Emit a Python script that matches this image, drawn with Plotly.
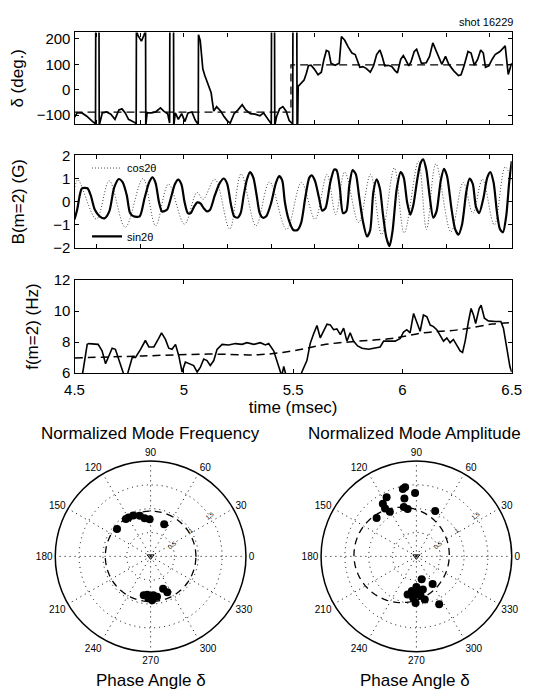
import math
import plotly.graph_objects as go

W, H = 541, 700
FONT = "Liberation Sans, Arial, Helvetica, sans-serif"

shot_label = "shot 16229"

# ---------------- panel 1 : phase delta (deg) ----------------
delta_t = [4.500, 4.512, 4.534, 4.556, 4.578, 4.596, 4.597, 4.612, 4.613, 4.627,
           4.647, 4.666, 4.685, 4.703, 4.717, 4.732, 4.747, 4.761, 4.776, 4.782,
           4.783, 4.790, 4.806, 4.817, 4.825, 4.826, 4.832, 4.852, 4.871, 4.893,
           4.908, 4.926, 4.935, 4.936, 4.953, 4.954, 4.961, 4.975, 4.990, 5.005,
           5.019, 5.037, 5.052, 5.066, 5.067, 5.075, 5.081, 5.087, 5.096, 5.110,
           5.125, 5.131, 5.137, 5.150, 5.169, 5.183, 5.198, 5.212, 5.230, 5.248,
           5.267, 5.283, 5.304, 5.326, 5.348, 5.365, 5.383, 5.400, 5.401, 5.415,
           5.416, 5.424, 5.438, 5.453, 5.468, 5.482, 5.498, 5.499, 5.517, 5.518,
           5.521, 5.523, 5.535, 5.550, 5.560, 5.570, 5.582, 5.597, 5.614, 5.629,
           5.641, 5.652, 5.663, 5.673, 5.692, 5.711, 5.721, 5.736, 5.751, 5.769,
           5.784, 5.795, 5.805, 5.819, 5.834, 5.853, 5.868, 5.882, 5.897, 5.907,
           5.919, 5.934, 5.951, 5.966, 5.977, 5.992, 6.004, 6.014, 6.029, 6.039,
           6.054, 6.065, 6.077, 6.087, 6.109, 6.124, 6.139, 6.153, 6.168, 6.180,
           6.197, 6.212, 6.234, 6.256, 6.268, 6.282, 6.300, 6.314, 6.329, 6.344,
           6.358, 6.370, 6.380, 6.395, 6.410, 6.424, 6.446, 6.470, 6.484, 6.500]
delta_deg = [-108, -91, -91, -104, -121, -134, 232, 232, -140, -91,
             -87, -96, -116, -79, -75, -91, -116, -121, -129, -134,
             232, 213, 191, 213, 232, -140, -91, -91, -87, -71,
             -84, -94, -131, 232, 232, -140, -91, -116, -94, -125,
             -91, -87, -119, -136, 216, 194, 144, 81, 56, 25,
             -12, -50, -84, -66, -84, -104, -121, -131, -94, -79,
             -59, -79, -94, -96, -102, -91, -113, -134, 232, 232,
             -140, -106, -75, -66, -84, -121, -134, 232, 232, -140,
             -130, 13, 25, 38, 63, 94, 96, 81, 59, 69,
             119, 154, 150, 104, 96, 104, 209, 194, 169, 144,
             138, 113, 88, 91, 84, 69, 94, 138, 156, 131,
             94, 96, 91, 75, 66, 119, 134, 119, 94, 109,
             150, 159, 125, 104, 106, 131, 184, 156, 125, 100,
             131, 100, 75, 56, 59, 94, 150, 144, 96, 119,
             156, 144, 88, 94, 119, 138, 150, 172, 60, 105]
delta_ref_t = [4.5, 5.49, 5.49, 6.5]
delta_ref_deg = [-88, -88, 98, 98]

# ---------------- panel 2 : B(m=2) ----------------
sin_t = [4.500, 4.512, 4.524, 4.534, 4.559, 4.574, 4.593, 4.615, 4.637, 4.659,
         4.681, 4.703, 4.720, 4.739, 4.754, 4.770, 4.798, 4.820, 4.842, 4.857,
         4.871, 4.886, 4.900, 4.923, 4.940, 4.959, 4.974, 4.989, 5.003, 5.018,
         5.032, 5.047, 5.062, 5.076, 5.091, 5.106, 5.120, 5.142, 5.164, 5.183,
         5.198, 5.216, 5.230, 5.245, 5.260, 5.274, 5.289, 5.303, 5.318, 5.333,
         5.347, 5.362, 5.377, 5.399, 5.421, 5.436, 5.450, 5.462, 5.479, 5.501,
         5.520, 5.537, 5.555, 5.574, 5.585, 5.600, 5.619, 5.633, 5.648, 5.670,
         5.688, 5.699, 5.714, 5.728, 5.743, 5.757, 5.772, 5.787, 5.801, 5.819,
         5.838, 5.852, 5.867, 5.882, 5.897, 5.911, 5.926, 5.941, 5.955, 5.974,
         5.992, 6.006, 6.021, 6.036, 6.050, 6.068, 6.083, 6.095, 6.109, 6.124,
         6.141, 6.156, 6.175, 6.190, 6.204, 6.224, 6.241, 6.256, 6.273, 6.292,
         6.307, 6.322, 6.336, 6.351, 6.370, 6.388, 6.402, 6.417, 6.432, 6.446,
         6.460, 6.475, 6.488, 6.500]
sin_b = [-0.76, -0.35, 0.28, 0.58, 0.58, 0.28, -0.35, -0.63, -0.72, -0.42,
         0.60, 0.98, 0.85, 0.28, -0.49, -0.63, -0.63, 0.14, 0.85, 1.05,
         0.80, 0.00, -0.42, -0.35, 0.14, 0.75, 0.95, 0.75, 0.00, -0.49,
         -0.49, -0.21, -0.03, -0.07, -0.28, -0.42, -0.35, 0.28, 0.80, 1.00,
         0.78, -0.14, -0.63, -0.69, -0.49, 0.28, 0.97, 1.28, 1.04, 0.28,
         -0.49, -0.69, -0.63, -0.07, 0.80, 1.10, 0.92, 0.00, -0.75, -1.22,
         -1.22, -0.90, 0.14, 1.04, 1.14, 0.90, 0.14, -0.39, -0.28, 0.83,
         1.39, 1.36, 0.56, -0.49, -0.42, 0.69, 1.36, 1.18, 0.28, -0.83,
         -1.50, -1.25, 0.42, 0.97, 0.56, -0.56, -1.53, -1.92, -1.25, 0.56,
         1.28, 1.04, 0.00, -0.56, -0.14, 0.97, 1.67, 1.83, 1.39, 0.28,
         -0.69, -0.42, 0.90, 1.42, 1.11, -0.28, -1.18, -1.42, -0.97, 0.42,
         1.00, 0.76, -0.21, -0.49, 0.14, 1.04, 1.28, 0.83, -0.42, -1.18,
         -1.32, -0.60, 0.80, 1.75]
cos_t = [4.500, 4.515, 4.600, 4.659, 4.732, 4.813, 4.871, 4.930, 5.003, 5.060,
         5.088, 5.142, 5.210, 5.262, 5.330, 5.392, 5.470, 5.538, 5.600, 5.655,
         5.695, 5.736, 5.800, 5.854, 5.905, 5.963, 6.008, 6.073, 6.110, 6.153,
         6.222, 6.278, 6.322, 6.366, 6.420, 6.470, 6.500]
cos_b = [0.50, 0.95, -0.75, 0.90, -1.10, 1.00, -1.04, 0.76, -0.97, 0.40,
         0.10, 0.97, -1.18, 1.20, -1.04, 0.85, -1.20, 0.83, -0.76, 1.18,
         -0.55, 1.28, -0.90, 1.18, -1.42, 1.46, -1.35, 1.74, -1.20, 1.64,
         -1.30, 0.83, -0.50, 0.97, -1.00, 1.50, 0.90]

# ---------------- panel 3 : f(m=2) ----------------
f_t = [4.500, 4.530, 4.538, 4.558, 4.566, 4.608, 4.626, 4.642, 4.657, 4.672,
       4.687, 4.703, 4.721, 4.730, 4.740, 4.745, 4.764, 4.779, 4.802, 4.824,
       4.840, 4.863, 4.885, 4.898, 4.916, 4.931, 4.946, 4.962, 4.977, 4.992,
       5.007, 5.022, 5.045, 5.061, 5.076, 5.091, 5.106, 5.121, 5.137, 5.152,
       5.175, 5.205, 5.236, 5.266, 5.289, 5.320, 5.350, 5.373, 5.388, 5.411,
       5.426, 5.441, 5.448, 5.457, 5.466, 5.472, 5.530, 5.540, 5.563, 5.578,
       5.593, 5.609, 5.624, 5.640, 5.655, 5.670, 5.685, 5.700, 5.716, 5.731,
       5.746, 5.761, 5.776, 5.795, 5.815, 5.845, 5.875, 5.898, 5.914, 5.967,
       5.990, 6.005, 6.020, 6.035, 6.051, 6.066, 6.081, 6.096, 6.112, 6.127,
       6.142, 6.157, 6.173, 6.188, 6.203, 6.218, 6.233, 6.249, 6.264, 6.275,
       6.287, 6.302, 6.314, 6.325, 6.335, 6.351, 6.360, 6.375, 6.393, 6.424,
       6.450, 6.462, 6.477, 6.492, 6.500]
f_hz = [5.5, 5.6, 6.06, 7.85, 7.90, 7.85, 7.43, 6.60, 7.10, 7.60,
        7.53, 6.80, 6.06, 5.7, 5.7, 6.06, 7.00, 7.00, 7.53, 8.10,
        7.68, 7.68, 8.23, 8.59, 8.17, 7.60, 7.53, 7.85, 7.10, 6.06,
        6.70, 6.60, 6.48, 6.06, 6.38, 6.90, 6.80, 6.48, 6.80, 7.53,
        7.85, 7.81, 7.90, 7.85, 7.96, 7.85, 7.96, 7.81, 7.90, 7.43,
        6.80, 6.06, 5.8, 6.42, 5.8, 5.6, 5.6, 6.06, 6.80, 7.90,
        8.50, 9.07, 8.27, 8.70, 9.16, 9.11, 8.80, 8.85, 8.48, 8.90,
        8.06, 8.60, 8.06, 7.75, 7.60, 7.53, 7.60, 7.68, 8.06, 8.06,
        8.23, 8.65, 8.80, 8.59, 9.85, 9.20, 8.70, 9.75, 9.64, 9.10,
        9.00, 8.80, 8.38, 8.06, 8.27, 7.96, 8.17, 7.75, 7.43, 7.33,
        8.06, 9.33, 10.17, 9.75, 9.20, 10.17, 10.38, 9.54, 9.37, 9.33,
        9.33, 8.90, 7.64, 6.38, 6.06]
f_ref_t = [4.50, 4.81, 5.11, 5.34, 5.50, 5.65, 5.80, 5.95, 6.10, 6.26, 6.41, 6.50]
f_ref_hz = [6.97, 7.10, 7.22, 7.18, 7.43, 7.85, 8.06, 8.23, 8.60, 8.80, 9.16, 9.26]

# ---------------- polar plots ----------------
freq_theta = [140.7, 123.5, 119.5, 113, 105, 99, 91.5, 67,
              260, 267, 272, 279, 291, 295, 265, 274]
freq_r = [0.91, 0.94, 0.94, 0.93, 0.88, 0.81, 0.78, 0.73,
          0.83, 0.88, 0.92, 0.86, 0.73, 0.83, 0.81, 0.82]
amp_theta = [116.7, 122.5, 123.2, 120.7, 136, 99.3, 101.4, 101.7, 104.3, 100.5, 91.2, 67.5,
             283, 300.5, 270, 262.5, 257, 271.5, 281, 276, 281, 269, 295.5, 265.5]
amp_r = [1.39, 1.31, 1.20, 1.09, 1.16, 1.47, 1.44, 1.24, 1.07, 1.01, 1.33, 1.03,
         0.49, 0.67, 0.64, 0.73, 0.82, 0.78, 0.71, 0.83, 0.92, 0.98, 1.11, 0.87]
freq_ref_radius = 0.95
amp_ref_center = (-0.31, 0.03)
amp_ref_radius = 1.0
angle_ticks = list(range(0, 360, 30))
radial_ticks = [0.5, 1, 1.5]


def fx(px):
    return px / W


def fy(py):
    return 1 - py / H


fig = go.Figure()

# panel 1
fig.add_trace(go.Scatter(x=delta_ref_t, y=delta_ref_deg, mode="lines",
                         line=dict(color="black", width=1.3, dash="8px,5px"),
                         xaxis="x", yaxis="y", showlegend=False, hoverinfo="skip"))
fig.add_trace(go.Scatter(x=delta_t, y=delta_deg, mode="lines",
                         line=dict(color="black", width=1.7),
                         xaxis="x", yaxis="y", showlegend=False))
# panel 2
fig.add_trace(go.Scatter(x=cos_t, y=cos_b, mode="lines", name="cos2θ",
                         line=dict(color="#444444", width=1, dash="1px,2px", shape="spline", smoothing=1.0),
                         xaxis="x2", yaxis="y2", legend="legend"))
fig.add_trace(go.Scatter(x=sin_t, y=sin_b, mode="lines", name="sin2θ",
                         line=dict(color="black", width=2.2, shape="spline", smoothing=0.7),
                         xaxis="x2", yaxis="y2", legend="legend2"))
# panel 3
fig.add_trace(go.Scatter(x=f_ref_t, y=f_ref_hz, mode="lines",
                         line=dict(color="black", width=1.5, dash="8px,5px", shape="spline"),
                         xaxis="x3", yaxis="y3", showlegend=False))
fig.add_trace(go.Scatter(x=f_t, y=f_hz, mode="lines",
                         line=dict(color="black", width=1.6),
                         xaxis="x3", yaxis="y3", showlegend=False))

# polar reference circles
circ_deg = list(range(0, 361, 4))
fig.add_trace(go.Scatterpolar(r=[freq_ref_radius] * len(circ_deg), theta=circ_deg, mode="lines",
                              line=dict(color="black", width=1.3, dash="7px,5px"),
                              subplot="polar", showlegend=False))
amp_cx, amp_cy = amp_ref_center
amp_ref_r, amp_ref_th = [], []
for d in circ_deg:
    xx = amp_cx + amp_ref_radius * math.cos(math.radians(d))
    yy = amp_cy + amp_ref_radius * math.sin(math.radians(d))
    amp_ref_r.append(math.hypot(xx, yy))
    amp_ref_th.append(math.degrees(math.atan2(yy, xx)) % 360)
fig.add_trace(go.Scatterpolar(r=amp_ref_r, theta=amp_ref_th, mode="lines",
                              line=dict(color="black", width=1.3, dash="7px,5px"),
                              subplot="polar2", showlegend=False))
for sp in ["polar", "polar2"]:
    fig.add_trace(go.Scatterpolar(r=[0], theta=[0], mode="markers",
                                  marker=dict(symbol="triangle-down-open", size=6, color="black",
                                              line=dict(width=1)),
                                  subplot=sp, showlegend=False))
fig.add_trace(go.Scatterpolar(r=freq_r, theta=freq_theta, mode="markers",
                              marker=dict(color="black", size=8),
                              subplot="polar", showlegend=False))
fig.add_trace(go.Scatterpolar(r=amp_r, theta=amp_theta, mode="markers",
                              marker=dict(color="black", size=8),
                              subplot="polar2", showlegend=False))

x_dom = [fx(67), fx(521)]
axis_common = dict(showline=True, linecolor="black", linewidth=1.2, mirror="ticks",
                   ticks="inside", ticklen=4, tickcolor="black", showgrid=False,
                   zeroline=False, tickfont=dict(size=15, color="black"))
minor_ticks = [4.6, 4.8, 5.0, 5.2, 5.4, 5.6, 5.8, 6.0, 6.2, 6.4]

polar_common = dict(
    bgcolor="white",
    angularaxis=dict(rotation=0, direction="counterclockwise", tickmode="array",
                     tickvals=angle_ticks, ticktext=[str(a) for a in angle_ticks],
                     showline=True, linecolor="black", linewidth=1.5, ticks="",
                     showgrid=True, gridcolor="black", gridwidth=1, griddash="1px,4px",
                     tickfont=dict(size=10, color="black")),
    radialaxis=dict(range=[0, 2], tickmode="array", tickvals=radial_ticks,
                    ticktext=["0.5", "1", "1.5"], angle=38, showline=False, ticks="",
                    showgrid=True, gridcolor="black", gridwidth=1, griddash="1px,4px",
                    tickfont=dict(size=6, color="black")),
)

fig.update_layout(
    width=W, height=H, margin=dict(l=0, r=0, t=0, b=0),
    paper_bgcolor="white", plot_bgcolor="white",
    font=dict(family=FONT, color="black"),
    xaxis=dict(domain=x_dom, anchor="y", range=[4.5, 6.5], tickvals=minor_ticks,
               showticklabels=False, **axis_common),
    yaxis=dict(domain=[fy(118), fy(24)], anchor="x", range=[-135, 225],
               tickvals=[-100, 0, 100, 200],
               title=dict(text="δ (deg.)", font=dict(size=17), standoff=8), **axis_common),
    xaxis2=dict(domain=x_dom, anchor="y2", range=[4.5, 6.5], tickvals=minor_ticks,
                showticklabels=False, **axis_common),
    yaxis2=dict(domain=[fy(245), fy(150)], anchor="x2", range=[-2, 2],
                tickvals=[-2, -1, 0, 1, 2],
                title=dict(text="B(m=2) (G)", font=dict(size=17), standoff=24), **axis_common),
    xaxis3=dict(domain=x_dom, anchor="y3", range=[4.5, 6.5],
                tickvals=[4.5, 5, 5.5, 6, 6.5], ticktext=["4.5", "5", "5.5", "6", "6.5"],
                ticklabelstandoff=3,
                title=dict(text="time (msec)", font=dict(size=17), standoff=4), **axis_common),
    yaxis3=dict(domain=[fy(373), fy(278)], anchor="x3", range=[6, 12],
                tickvals=[6, 8, 10, 12],
                title=dict(text="f(m=2) (Hz)", font=dict(size=17), standoff=10), **axis_common),
    polar=dict(domain=dict(x=[fx(47), fx(245)], y=[fy(660), fy(462)]), **polar_common),
    polar2=dict(domain=dict(x=[fx(323), fx(521)], y=[fy(660), fy(462)]), **polar_common),
    legend=dict(x=fx(80), y=fy(163), xanchor="left", yanchor="middle",
                bgcolor="rgba(0,0,0,0)", font=dict(size=11), borderwidth=0),
    legend2=dict(x=fx(80), y=fy(233), xanchor="left", yanchor="middle",
                 bgcolor="rgba(0,0,0,0)", font=dict(size=11), borderwidth=0),
    annotations=[
        dict(text=shot_label, x=fx(524), y=fy(13), xref="paper", yref="paper",
             xanchor="right", yanchor="middle", showarrow=False,
             font=dict(size=11, color="black")),
        dict(text="Normalized Mode Frequency", x=fx(146), y=fy(435), xref="paper", yref="paper",
             xanchor="center", yanchor="middle", showarrow=False, font=dict(size=17)),
        dict(text="Normalized Mode Amplitude", x=fx(420), y=fy(435), xref="paper", yref="paper",
             xanchor="center", yanchor="middle", showarrow=False, font=dict(size=17)),
        dict(text="Phase Angle δ", x=fx(146), y=fy(688), xref="paper", yref="paper",
             xanchor="center", yanchor="middle", showarrow=False, font=dict(size=17)),
        dict(text="Phase Angle δ", x=fx(421), y=fy(688), xref="paper", yref="paper",
             xanchor="center", yanchor="middle", showarrow=False, font=dict(size=17)),
    ],
)

fig.write_html("out.html", config={"displayModeBar": False},
               post_script="document.body.style.margin='0px';")
